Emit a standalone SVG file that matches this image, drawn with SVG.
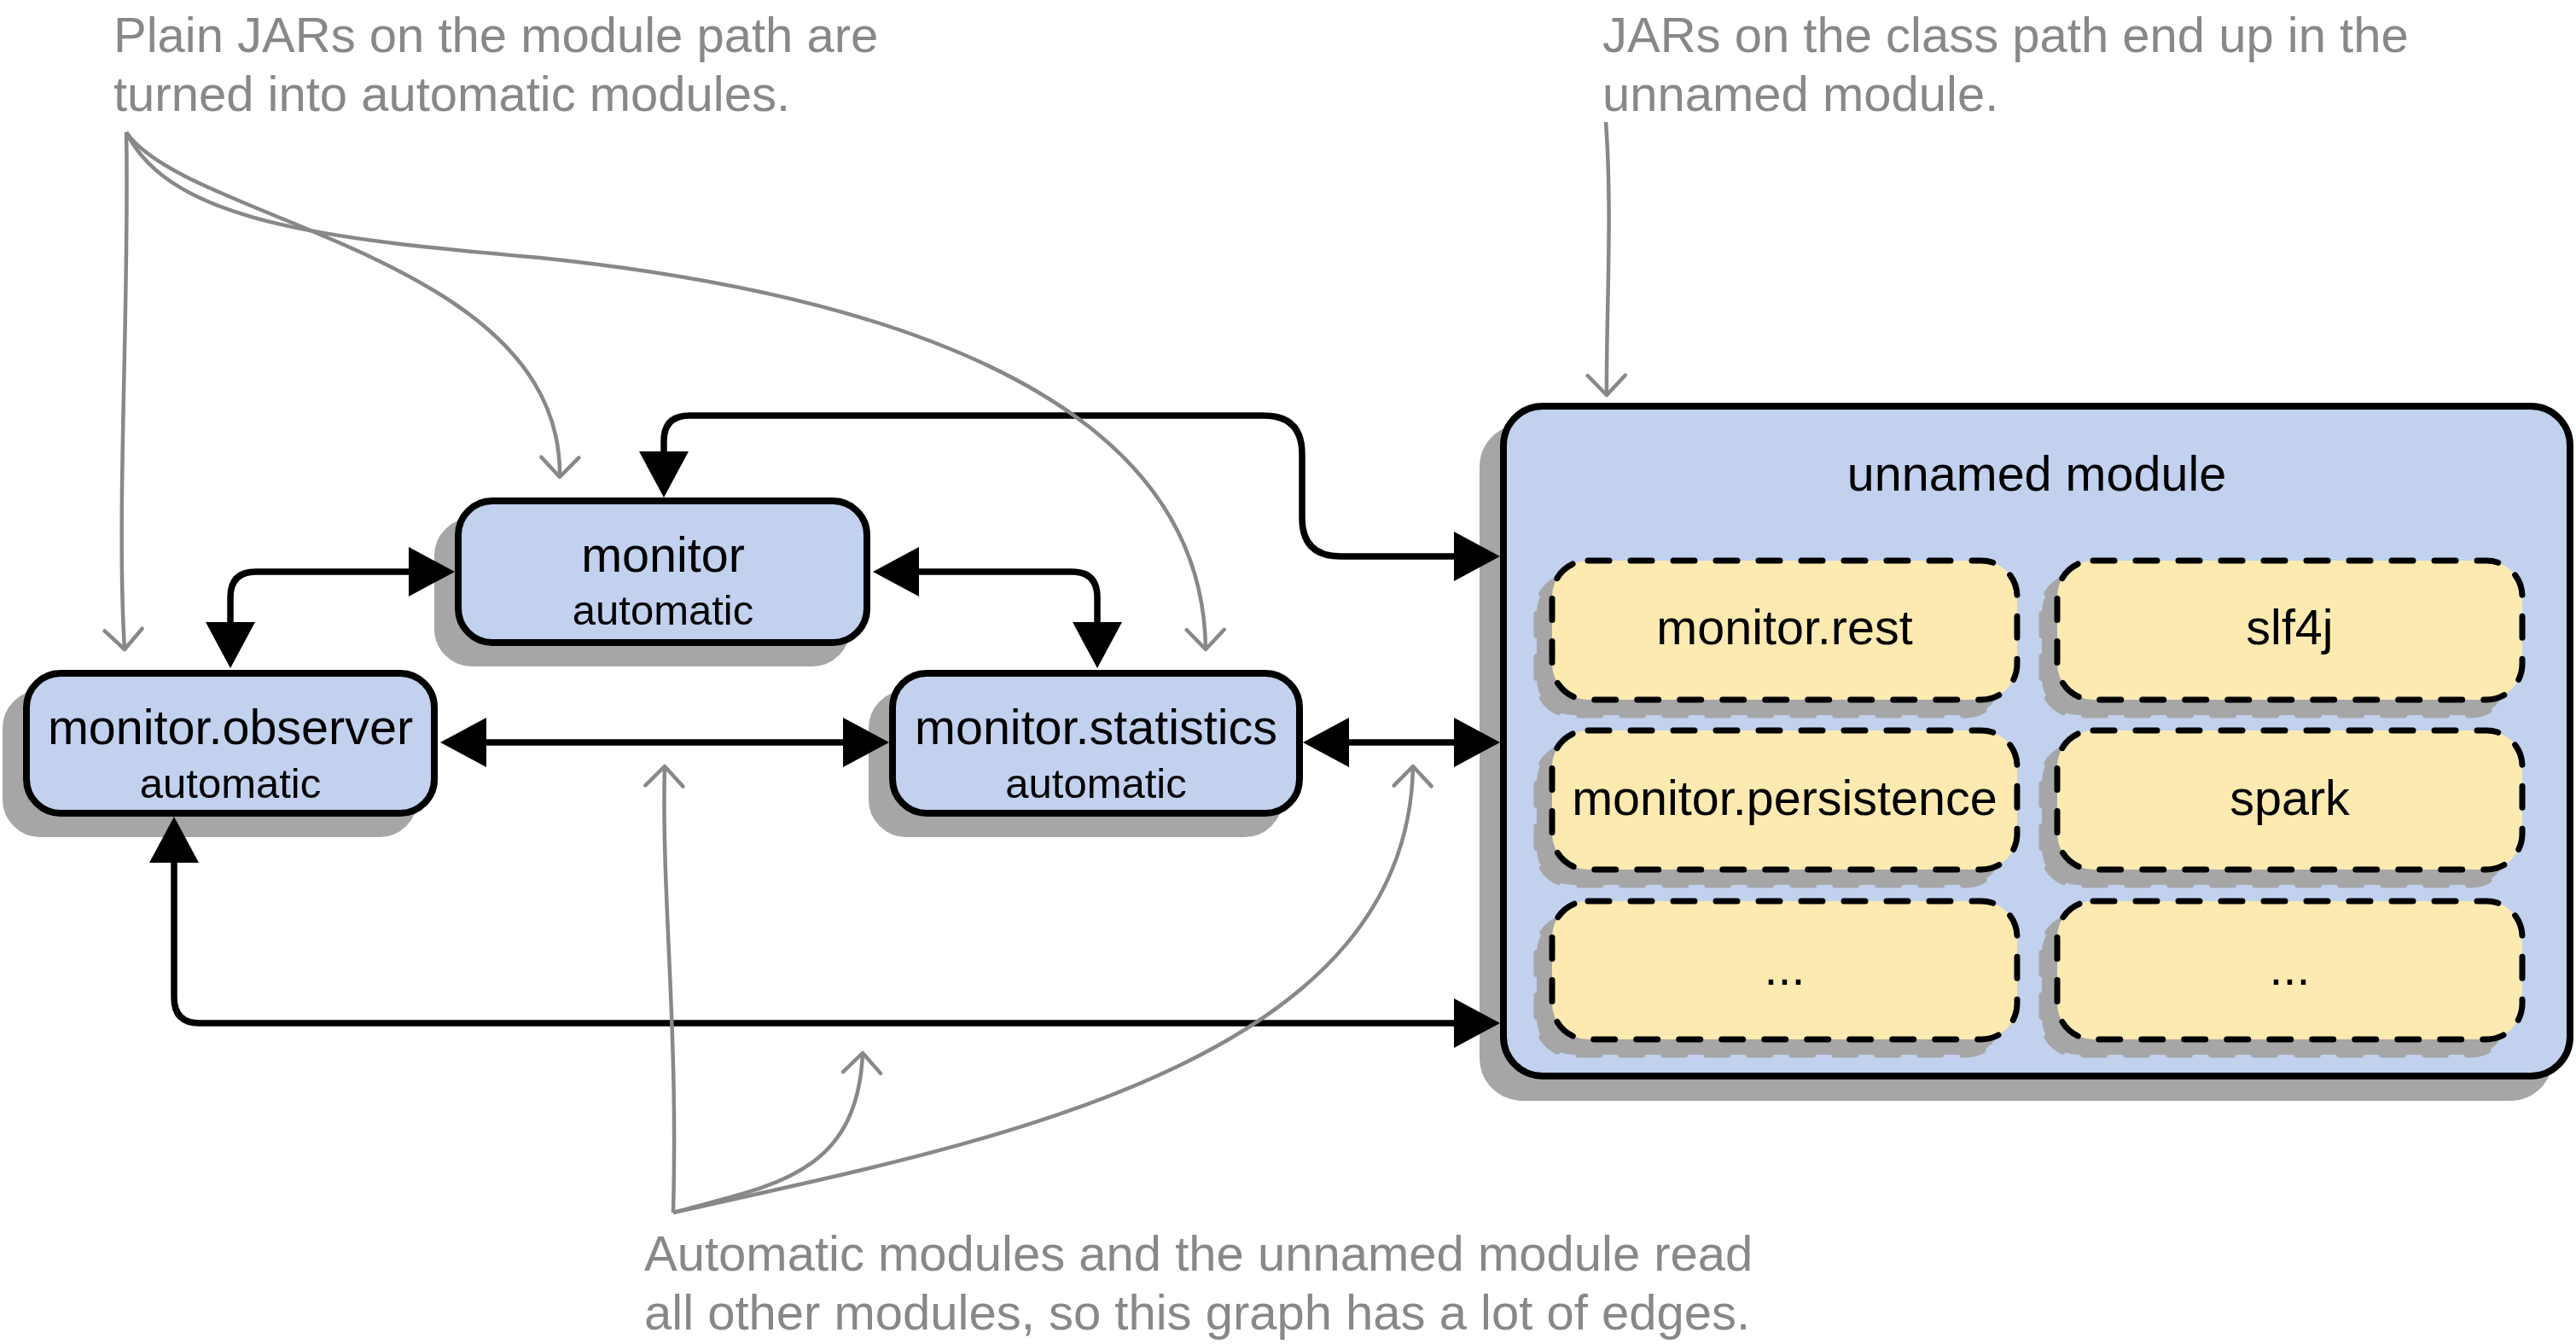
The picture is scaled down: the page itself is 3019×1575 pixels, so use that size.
<svg xmlns="http://www.w3.org/2000/svg" width="3019" height="1575" viewBox="0 0 3019 1575">
<defs>
<style>
.node{fill:#c1d1ee;stroke:#000;stroke-width:8}
.shadow{fill:#a6a6a6;stroke:#a6a6a6;stroke-width:8}
.inner{fill:#fdeab0;stroke:#000;stroke-width:7;stroke-dasharray:25 25;stroke-linecap:round}
.ishadow{fill:#a6a6a6;stroke:#a6a6a6;stroke-width:7;stroke-dasharray:25 25;stroke-linecap:round}
.lbl{font-family:"Liberation Sans",Arial,sans-serif;font-size:57.5px;fill:#000;text-anchor:middle}
.sub{font-family:"Liberation Sans",Arial,sans-serif;font-size:49px;fill:#000;text-anchor:middle}
.note{font-family:"Liberation Sans",Arial,sans-serif;font-size:58px;fill:#888888}
.edge{fill:none;stroke:#000;stroke-width:7.5;marker-start:url(#ah);marker-end:url(#ah)}
.gedge{fill:none;stroke:#888888;stroke-width:4.5;marker-end:url(#ga)}
</style>
<marker id="ah" markerUnits="userSpaceOnUse" markerWidth="56" markerHeight="60" refX="0" refY="0" orient="auto-start-reverse" overflow="visible"><path d="M0,-29 L54,0 L0,29 Z" fill="#000"/></marker>
<marker id="ga" markerUnits="userSpaceOnUse" markerWidth="30" markerHeight="50" refX="0" refY="0" orient="auto" overflow="visible"><path d="M-23,-22 L0,0 L-23,22" fill="none" stroke="#888888" stroke-width="4.5" stroke-linecap="round" stroke-linejoin="round"/></marker>
</defs>
<rect width="3019" height="1575" fill="#fff"/>

<g id="note-module-path">
<text class="note" x="133" y="61">Plain JARs on the module path are</text>
<text class="note" x="133" y="130">turned into automatic modules.</text>
</g>
<g id="note-class-path">
<text class="note" x="1878" y="61">JARs on the class path end up in the</text>
<text class="note" x="1878" y="130">unnamed module.</text>
</g>
<g id="note-edges">
<text class="note" x="755" y="1489">Automatic modules and the unnamed module read</text>
<text class="note" x="755" y="1558">all other modules, so this graph has a lot of edges.</text>
</g>

<g id="monitor">
<rect class="shadow" x="513" y="611" width="479" height="166" rx="40"/>
<rect class="node" x="537" y="587" width="479" height="166" rx="40"/>
<text class="lbl" x="777" y="670">monitor</text>
<text class="sub" x="777" y="732">automatic</text>
</g>
<g id="monitor.observer">
<rect class="shadow" x="7" y="813" width="478" height="164" rx="40"/>
<rect class="node" x="31" y="789" width="478" height="164" rx="40"/>
<text class="lbl" x="270" y="872">monitor.observer</text>
<text class="sub" x="270" y="935">automatic</text>
</g>
<g id="monitor.statistics">
<rect class="shadow" x="1022" y="813" width="477" height="164" rx="40"/>
<rect class="node" x="1046" y="789" width="477" height="164" rx="40"/>
<text class="lbl" x="1284.5" y="872">monitor.statistics</text>
<text class="sub" x="1284.5" y="935">automatic</text>
</g>
<g id="unnamed-module">
<rect class="shadow" x="1738" y="501" width="1250" height="785" rx="46"/>
<rect class="node" x="1762" y="476" width="1250" height="785" rx="46"/>
<text class="lbl" x="2387" y="575">unnamed module</text>
</g>
<g id="monitor.rest">
<rect class="ishadow" x="1801" y="675" width="545" height="163" rx="42"/>
<rect class="inner" x="1819" y="657" width="545" height="163" rx="42"/>
<text class="lbl" x="2091.5" y="755">monitor.rest</text>
</g>
<g id="slf4j">
<rect class="ishadow" x="2393" y="675" width="545" height="163" rx="42"/>
<rect class="inner" x="2411" y="657" width="545" height="163" rx="42"/>
<text class="lbl" x="2683.5" y="755">slf4j</text>
</g>
<g id="monitor.persistence">
<rect class="ishadow" x="1801" y="874" width="545" height="163" rx="42"/>
<rect class="inner" x="1819" y="856" width="545" height="163" rx="42"/>
<text class="lbl" x="2091.5" y="955">monitor.persistence</text>
</g>
<g id="spark">
<rect class="ishadow" x="2393" y="874" width="545" height="163" rx="42"/>
<rect class="inner" x="2411" y="856" width="545" height="163" rx="42"/>
<text class="lbl" x="2683.5" y="955">spark</text>
</g>
<g id="more-1">
<rect class="ishadow" x="1801" y="1074" width="545" height="162" rx="42"/>
<rect class="inner" x="1819" y="1056" width="545" height="162" rx="42"/>
<text class="lbl" x="2091.5" y="1154">...</text>
</g>
<g id="more-2">
<rect class="ishadow" x="2393" y="1074" width="545" height="162" rx="42"/>
<rect class="inner" x="2411" y="1056" width="545" height="162" rx="42"/>
<text class="lbl" x="2683.5" y="1154">...</text>
</g>

<g id="connectors">
<path class="edge" d="M479,670 L300,670 Q270,670 270,700 L270,729"/>
<path class="edge" d="M1077,670 L1256,670 Q1286,670 1286,700 L1286,729"/>
<path class="edge" d="M570,870 L988,870"/>
<path class="edge" d="M1581,870 L1704,870"/>
<path class="edge" d="M778,529 L778,517 Q778,487 808,487 L1481,487 Q1526,487 1526,532 L1526,607 Q1526,652 1571,652 L1704,652"/>
<path class="edge" d="M204,1011 L204,1169 Q204,1199 234,1199 L1704,1199"/>
<path class="gedge" d="M148,155 C152,350 136,600 146,761"/>
<path class="gedge" d="M148,155 C220,260 660,300 656,559"/>
<path class="gedge" d="M148,155 C200,260 380,280 632,302 C1000,340 1410,450 1413,761"/>
<path class="gedge" d="M1882,143 C1890,250 1882,380 1883,463"/>
<path class="gedge" d="M789,1421 C795,1200 775,1050 779,898"/>
<path class="gedge" d="M789,1421 C900,1390 1005,1380 1011,1234"/>
<path class="gedge" d="M789,1421 C1150,1340 1650,1250 1656,898"/>
</g>
</svg>
